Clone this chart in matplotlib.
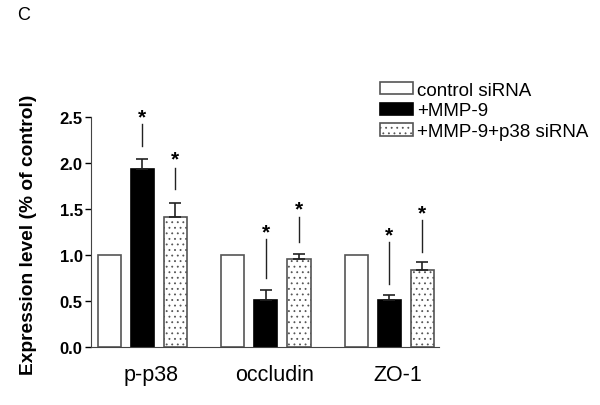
import numpy as np
import matplotlib
matplotlib.use('Agg')
import matplotlib.pyplot as plt

plt.rcParams['font.family'] = ['Liberation Sans', 'DejaVu Sans']
plt.rcParams['hatch.linewidth'] = 0.6
plt.rcParams['hatch.color'] = '#333333'

# data
grupos = ['p-p38', 'occludin', 'ZO-1']
series = ['control siRNA', '+MMP-9', '+MMP-9+p38 siRNA']
controle = [1.0, 1.0, 1.0]
mmp9 = [1.93, 0.51, 0.51]
mmp9_p38 = [1.41, 0.96, 0.84]
erro_mmp9 = [0.11, 0.11, 0.06]
erro_mmp9_p38 = [0.16, 0.05, 0.08]
# significance marks: (line bottom, line top, star y)
sig_mmp9 = [(2.19, 2.42, 2.50), (0.75, 1.17, 1.25), (0.68, 1.14, 1.22)]
sig_mmp9_p38 = [(1.72, 1.95, 2.04), (1.14, 1.41, 1.50), (1.03, 1.38, 1.46)]

fig = plt.figure(figsize=(6, 4.06), dpi=100)
ax = fig.add_axes([0.1517, 0.1429, 0.58, 0.5665])

passo = 3.73
centros = np.arange(len(grupos)) * passo
w = 0.7
cinza = '#555555'

ax.bar(centros - 1, controle, w, color='white', edgecolor=cinza, linewidth=1.2,
       label=series[0], zorder=2)
ax.bar(centros, mmp9, w, color='black', edgecolor='black', linewidth=1.2,
       label=series[1], zorder=2)
ax.bar(centros + 1, mmp9_p38, w, color='white', edgecolor=cinza, linewidth=1.2,
       hatch='...', label=series[2], zorder=2)

ax.errorbar(centros, mmp9, yerr=[np.zeros(3), erro_mmp9], fmt='none',
            ecolor='#222222', elinewidth=1.2, capsize=4.5, capthick=1.2, zorder=3)
ax.errorbar(centros + 1, mmp9_p38, yerr=[np.zeros(3), erro_mmp9_p38], fmt='none',
            ecolor='#222222', elinewidth=1.2, capsize=4.5, capthick=1.2, zorder=3)

for xs, marcas in [(centros, sig_mmp9), (centros + 1, sig_mmp9_p38)]:
    for x, (y0, y1, ys) in zip(xs, marcas):
        ax.plot([x, x], [y0, y1], color='#222222', lw=1.0)
        ax.text(x, ys, '*', ha='center', va='center', fontsize=15,
                fontweight='bold')

ax.set_xlim(-1.55, 8.96)
ax.set_ylim(0, 2.5)
ax.set_yticks([0.0, 0.5, 1.0, 1.5, 2.0, 2.5])
ax.set_yticklabels(['0.0', '0.5', '1.0', '1.5', '2.0', '2.5'],
                   fontweight='bold', fontsize=12)
ax.set_xticks(centros + 0.25)
ax.set_xticklabels(grupos, fontsize=15.5)
ax.tick_params(axis='x', length=0, pad=12)
ax.tick_params(axis='y', length=4, width=1, direction='out', pad=2)
ax.spines['top'].set_visible(False)
ax.spines['right'].set_visible(False)
ax.spines['left'].set_color('#444444')
ax.spines['bottom'].set_color('#444444')
ax.set_ylabel('Expression level (% of control)', fontsize=13.8,
              fontweight='bold')
ax.yaxis.set_label_coords(-0.155, 0.49)

fig.legend(loc='upper left', bbox_to_anchor=(0.62, 0.815), frameon=False,
           fontsize=13.5, handlelength=1.8, handleheight=0.65,
           labelspacing=0.2, handletextpad=0.2, borderaxespad=0)

fig.text(0.04, 0.963, 'C', fontsize=13, ha='center', va='center')

plt.savefig('out.png', dpi=100)
